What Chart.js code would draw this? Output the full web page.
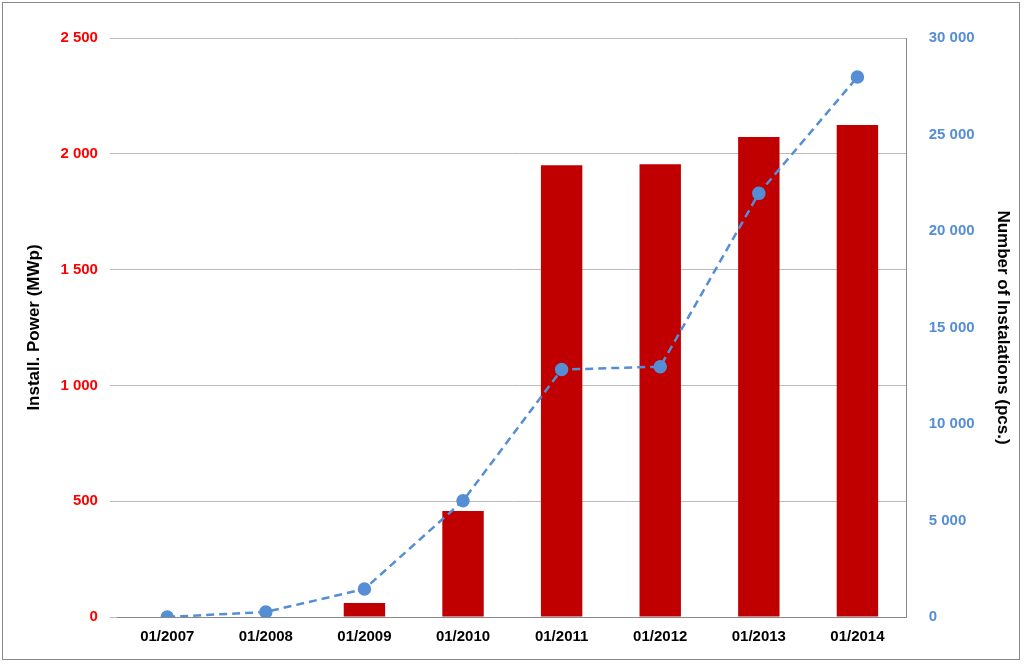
<!DOCTYPE html>
<html>
<head>
<script src="https://cdn.jsdelivr.net/npm/chart.js@4/dist/chart.umd.min.js"></script>
<style>
html, body { margin: 0; padding: 0; background: #fff; }
#wrap { position: absolute; left: 2px; top: 2px; width: 1018px; height: 658px; border: 1px solid #888; box-sizing: border-box; }
</style>
</head>
<body>
<div id="wrap"><canvas id="chart"></canvas></div>
<script>
const categories = ['01/2007', '01/2008', '01/2009', '01/2010', '01/2011', '01/2012', '01/2013', '01/2014'];
const powerMWp = [0, 2, 60, 458, 1951, 1955, 2072, 2124];
const installations = [0, 260, 1450, 6020, 12820, 12970, 21950, 27980];

function spaced(v) {
    return String(v).replace(/\B(?=(\d{3})+(?!\d))/g, ' ');
}

const font = { family: 'Liberation Sans, Arial', size: 15, weight: 'bold' };

new Chart(document.getElementById('chart').getContext('2d'), {
    data: {
        labels: categories,
        datasets: [
            {
                type: 'line',
                label: 'Number of Instalations',
                data: installations,
                yAxisID: 'y2',
                borderColor: '#558ED5',
                backgroundColor: '#558ED5',
                borderWidth: 2.5,
                borderDash: [8, 5],
                pointRadius: 5.5,
                pointHoverRadius: 5.5,
                tension: 0
            },
            {
                type: 'bar',
                label: 'Install. Power',
                data: powerMWp,
                yAxisID: 'y',
                backgroundColor: '#C00000',
                barPercentage: 0.42,
                categoryPercentage: 1
            }
        ]
    },
    options: {
        responsive: true,
        maintainAspectRatio: false,
        animation: false,
        layout: { padding: { top: 35, left: 17, right: 2, bottom: 10 } },
        plugins: { legend: { display: false }, tooltip: { enabled: false } },
        scales: {
            x: {
                grid: { display: false },
                border: { color: '#888' },
                ticks: { color: '#000', font: font }
            },
            y: {
                position: 'left',
                min: 0, max: 2500,
                ticks: { stepSize: 500, color: '#FF0000', font: font, callback: v => spaced(v), padding: 12 },
                grid: { color: '#bbb' },
                border: { display: false },
                title: { display: true, text: 'Install. Power (MWp)', color: '#000', font: { family: 'Liberation Sans, Arial', size: 17, weight: 'bold' } }
            },
            y2: {
                position: 'right',
                min: 0, max: 30000,
                ticks: { stepSize: 5000, color: '#558ED5', font: font, callback: v => spaced(v), padding: 14 },
                grid: { display: false },
                border: { color: '#888' },
                title: { display: true, text: 'Number of Instalations (pcs.)', color: '#000', font: { family: 'Liberation Sans, Arial', size: 17, weight: 'bold' } }
            }
        }
    }
});
</script>
</body>
</html>
